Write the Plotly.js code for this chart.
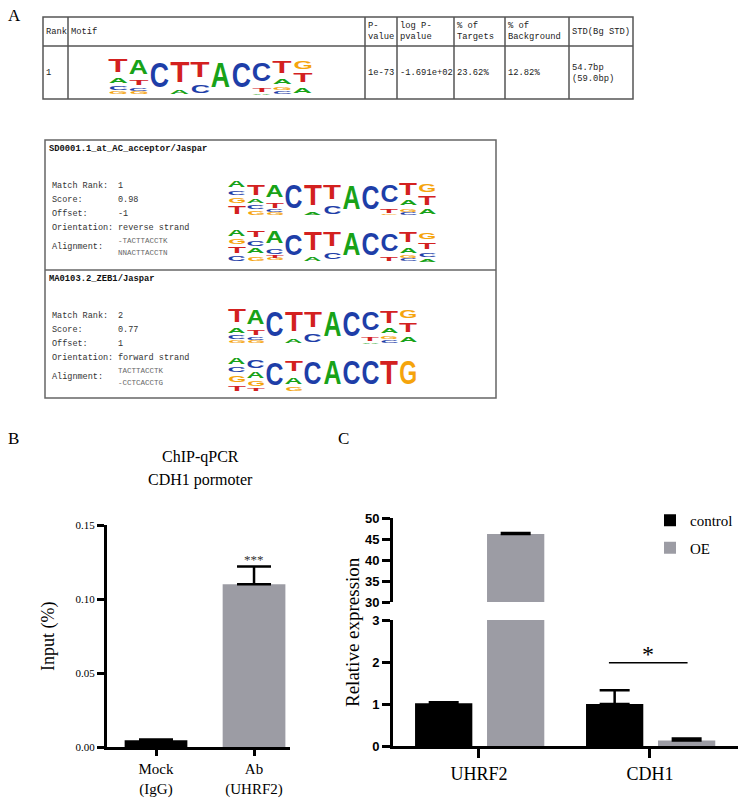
<!DOCTYPE html>
<html>
<head>
<meta charset="utf-8">
<script src="https://cdn.plot.ly/plotly-3.0.1.min.js"></script>
<style>
  body { margin: 0; background: #fff; }
  #chart { width: 740px; height: 799px; }
</style>
</head>
<body>
<div id="chart"></div>
<script>
// ---------------- data ----------------
// panel A: HOMER known motif table
var motifHeader = ['Rank', 'Motif', 'P-<br>value', 'log P-<br>pvalue', '% of<br>Targets', '% of<br>Background', 'STD(Bg STD)'];
var motifRow = ['1', '', '1e-73', '-1.691e+02', '23.62%', '12.82%', '54.7bp<br>(59.0bp)'];

// motif logos: each column lists letters top -> bottom with their share of the column height
var motifHomer = [
    [['T', .50], ['A', .18], ['C', .15], ['G', .10]],
    [['A', .55], ['T', .18], ['C', .12], ['G', .08]],
    [['C', .97]],
    [['T', .80], ['A', .15]],
    [['T', .62], ['C', .30]],
    [['A', .97]],
    [['C', .97]],
    [['C', .70], ['T', .15], ['A', .05]],
    [['T', .45], ['A', .22], ['G', .12], ['C', .10]],
    [['G', .30], ['T', .35], ['A', .22]]
];
var motifSD0001 = [
    [['A', .25], ['C', .17], ['G', .20], ['T', .30]],
    [['T', .40], ['A', .15], ['C', .15], ['G', .15]],
    [['A', .48], ['T', .20], ['C', .10], ['G', .08]],
    [['C', .95]],
    [['T', .85], ['A', .10]],
    [['T', .60], ['C', .30]],
    [['A', .97]],
    [['C', .97]],
    [['C', .70], ['T', .15], ['G', .05]],
    [['T', .45], ['A', .20], ['G', .12], ['C', .10]],
    [['G', .30], ['T', .35], ['A', .20]]
];
var motifSD0001Query = [
    [['A', .25], ['G', .20], ['T', .25], ['C', .20]],
    [['T', .30], ['C', .20], ['A', .22], ['G', .18]],
    [['A', .50], ['C', .20], ['T', .12], ['G', .08]],
    [['C', .90]],
    [['T', .78], ['A', .15]],
    [['T', .60], ['C', .30]],
    [['A', .97]],
    [['C', .97]],
    [['C', .72], ['T', .15]],
    [['T', .45], ['A', .20], ['G', .12], ['C', .10]],
    [['G', .25], ['T', .30], ['C', .15], ['A', .12]]
];
var motifZEB1 = [
    [['A', .25], ['C', .22], ['G', .25], ['T', .20]],
    [['C', .30], ['A', .25], ['G', .20], ['T', .12]],
    [['C', .90]],
    [['T', .45], ['A', .28], ['G', .15]],
    [['C', .95]],
    [['A', .97]],
    [['C', .97]],
    [['C', .97]],
    [['T', .97]],
    [['G', .97]]
];

var matchNames = ['SD0001.1_at_AC_acceptor/Jaspar', 'MA0103.2_ZEB1/Jaspar'];
var matchRank = ['1', '2'];
var matchScore = ['0.98', '0.77'];
var matchOffset = ['-1', '1'];
var matchStrand = ['reverse strand', 'forward strand'];
var matchAlign = [['-TACTTACCTK', 'NNACTTACCTN'], ['TACTTACCTK', '-CCTCACCTG']];

// panel B: ChIP-qPCR
var chipLabels = ['Mock<br>(IgG)', 'Ab<br>(UHRF2)'];
var chipInput = [0.0045, 0.110];
var chipErr = [0.0005, 0.012];

// panel C: relative expression
var genes = ['UHRF2', 'CDH1'];
var ctrlExpr = [1.02, 1.00];
var ctrlErr = [0.02, 0.33];
var oeExpr = [46.2, 0.13];
var oeErr = [0.2, 0.05];

// ---------------- helpers ----------------
var W = 740, H = 799;
function px(x) { return x / W; }
function py(y) { return 1 - y / H; }

var SERIF = 'Liberation Serif, Times New Roman, serif';
var MONO = 'Liberation Mono, DejaVu Sans Mono, monospace';
var SANS = 'Liberation Sans, Arial, sans-serif';

var annotations = [];
var shapes = [];

function note(text, x, y, size, opt) {
    opt = opt || {};
    annotations.push({
        xref: 'paper', yref: 'paper', x: px(x), y: py(y), text: text, showarrow: false,
        xanchor: opt.xanchor || 'left', yanchor: 'middle', align: opt.xanchor === 'center' ? 'center' : 'left',
        textangle: opt.angle || 0,
        font: {family: opt.family || SERIF, size: size, color: opt.color || '#000', weight: opt.weight || 400}
    });
}

function box(x0, y0, x1, y1, color) {
    shapes.push({type: 'rect', xref: 'paper', yref: 'paper', x0: px(x0), x1: px(x1), y0: py(y0), y1: py(y1),
        line: {color: color, width: 1.5}});
}
function hline(x0, x1, y, color) {
    shapes.push({type: 'line', xref: 'paper', yref: 'paper', x0: px(x0), x1: px(x1), y0: py(y), y1: py(y),
        line: {color: color, width: 1.5}});
}
function vline(x, y0, y1, color) {
    shapes.push({type: 'line', xref: 'paper', yref: 'paper', x0: px(x), x1: px(x), y0: py(y0), y1: py(y1),
        line: {color: color, width: 1.5}});
}

// sequence logo letters, stretched after drawing so each text box just fills its slot
var letterColor = {A: '#18a218', C: '#1e3ea8', G: '#f5a40c', T: '#d3211f'};
var letterWidth = {A: 0.722, C: 0.722, G: 0.778, T: 0.611};
var stretch = {};
function addLogo(cols, x0, x1, yTop, yBot) {
    var cw = (x1 - x0) / cols.length, lh = yBot - yTop, fs = 26;
    cols.forEach(function(col, i) {
        var bottom = yBot;
        for (var k = col.length - 1; k >= 0; k--) {
            var L = col[k][0], h = col[k][1] * lh;
            stretch[annotations.length] = [0.94 * cw / (letterWidth[L] * fs), 0.97 * h / (1.117 * fs)];
            annotations.push({
                xref: 'paper', yref: 'paper', x: px(x0 + cw * (i + 0.5)), y: py(bottom - h / 2),
                text: L, showarrow: false, xanchor: 'center', yanchor: 'middle',
                font: {family: SANS, size: fs, weight: 700, color: letterColor[L]}
            });
            bottom -= h;
        }
    });
}

// ---------------- panel A ----------------
note('A', 6, 15, 17);

var colLines = [43, 68, 365, 397, 454, 505, 569, 633];
box(43, 17, 633, 99, '#555');
hline(43, 633, 46, '#555');
colLines.slice(1, -1).forEach(function(x) { vline(x, 17, 99, '#555'); });
motifHeader.forEach(function(t, i) {
    note(t, colLines[i] + 1, 32, 8.8, {family: MONO, color: '#222'});
});
motifRow.forEach(function(t, i) {
    if (t) note(t, colLines[i] + 1, 73, 8.8, {family: MONO, color: '#222'});
});
addLogo(motifHomer, 108, 313, 53, 95);

box(45, 140, 496, 398, '#666');
hline(45, 496, 270, '#666');
var entryTop = [140, 270];
matchNames.forEach(function(name, k) {
    var t = entryTop[k];
    note(name, 47, t + 9, 8.8, {family: MONO, color: '#111', weight: 700});
    note('Match Rank:', 50, t + 46, 8.5, {family: MONO, color: '#333'});
    note('Score:', 50, t + 60, 8.5, {family: MONO, color: '#333'});
    note('Offset:', 50, t + 74, 8.5, {family: MONO, color: '#333'});
    note('Orientation:', 50, t + 88, 8.5, {family: MONO, color: '#333'});
    note('Alignment:', 50, t + 107, 8.5, {family: MONO, color: '#333'});
    note(matchRank[k], 116, t + 46, 8.5, {family: MONO, color: '#333'});
    note(matchScore[k], 116, t + 60, 8.5, {family: MONO, color: '#333'});
    note(matchOffset[k], 116, t + 74, 8.5, {family: MONO, color: '#333'});
    note(matchStrand[k], 116, t + 88, 8.5, {family: MONO, color: '#333'});
    note(matchAlign[k][0], 116, t + 101, 7.5, {family: MONO, color: '#666'});
    note(matchAlign[k][1], 116, t + 113, 7.5, {family: MONO, color: '#666'});
});
addLogo(motifSD0001, 227, 437, 176, 216);
addLogo(motifSD0001Query, 227, 437, 224, 262);
addLogo(motifHomer, 227, 418, 303, 344);
addLogo(motifZEB1, 227, 418, 353, 392);

// ---------------- panel B ----------------
note('B', 6, 438, 17);
note('ChIP-qPCR', 200, 457, 16, {xanchor: 'center'});
note('CDH1 pormoter', 200, 480, 16, {xanchor: 'center'});
note('Input (%)', 48, 637, 18, {xanchor: 'center', angle: -90});
annotations.push({xref: 'x', yref: 'y', x: 1, y: chipInput[1] + chipErr[1], yanchor: 'bottom', yshift: -3,
    text: '***', showarrow: false, font: {family: SERIF, size: 13, color: '#333'}});

// ---------------- panel C ----------------
note('C', 336, 438, 17);
note('Relative expression', 352, 632, 19, {xanchor: 'center', angle: -90});
shapes.push({type: 'line', xref: 'x2', yref: 'y2', x0: 0.76, x1: 1.22, y0: 1.98, y1: 1.98,
    line: {color: '#000', width: 1.5}});
annotations.push({xref: 'x2', yref: 'y2', x: 0.99, y: 1.98, yanchor: 'bottom', yshift: -6,
    text: '*', showarrow: false, font: {family: SERIF, size: 24, color: '#000'}});

// ---------------- traces ----------------
var GREY = '#9c9ca4';
function upErr(arr, w) {
    return {type: 'data', array: arr, arrayminus: arr.map(function() { return 0; }), symmetric: false,
        color: '#000', thickness: 2.5, width: w};
}

var data = [
    {type: 'bar', x: [0, 1], y: chipInput, xaxis: 'x', yaxis: 'y', width: 0.64,
        marker: {color: ['#000', GREY]}, error_y: upErr(chipErr, 17), showlegend: false},
    {type: 'bar', name: 'control', legendgroup: 'a', x: [0, 1], y: ctrlExpr, xaxis: 'x2', yaxis: 'y2',
        width: 0.335, offset: -0.374, marker: {color: '#000'}, error_y: upErr(ctrlErr, 15)},
    {type: 'bar', name: 'OE', legendgroup: 'b', x: [0, 1], y: oeExpr, xaxis: 'x2', yaxis: 'y2',
        width: 0.335, offset: 0.047, marker: {color: GREY}, error_y: upErr(oeErr, 15)},
    {type: 'bar', x: [0, 1], y: ctrlExpr, xaxis: 'x2', yaxis: 'y3', showlegend: false,
        width: 0.335, offset: -0.374, marker: {color: '#000'}},
    {type: 'bar', x: [0, 1], y: oeExpr, xaxis: 'x2', yaxis: 'y3', showlegend: false,
        width: 0.335, offset: 0.047, marker: {color: GREY}, error_y: upErr(oeErr, 15)}
];

var axBase = {showline: true, linecolor: '#000', linewidth: 3, ticks: 'outside', tickcolor: '#000',
    tickwidth: 3, showgrid: false, zeroline: false, fixedrange: true};

var layout = {
    width: W, height: H,
    margin: {l: 0, r: 0, t: 0, b: 0},
    paper_bgcolor: '#fff', plot_bgcolor: 'rgba(0,0,0,0)',
    barmode: 'overlay',
    showlegend: true,
    legend: {x: px(650), y: py(504), xanchor: 'left', yanchor: 'top', bgcolor: 'rgba(0,0,0,0)',
        font: {family: SERIF, size: 15, color: '#000'}, tracegroupgap: 5, traceorder: 'grouped'},
    xaxis: Object.assign({}, axBase, {domain: [px(107), px(290)], range: [-0.5, 1.367], anchor: 'y',
        tickvals: [0, 1], ticktext: chipLabels, ticklen: 6, tickfont: {family: SERIF, size: 15, color: '#000'}}),
    yaxis: Object.assign({}, axBase, {domain: [py(747), py(525)], range: [0, 0.15], anchor: 'x',
        dtick: 0.05, tickformat: '.2f', ticklen: 7, tickfont: {family: SERIF, size: 11, color: '#000'}}),
    xaxis2: Object.assign({}, axBase, {domain: [px(393), px(738)], range: [-0.503, 1.515], anchor: 'y2',
        tickvals: [0, 1], ticktext: genes, ticklen: 9, tickfont: {family: SERIF, size: 18, color: '#000'}}),
    yaxis2: Object.assign({}, axBase, {domain: [py(746), py(620)], range: [0, 3], anchor: 'x2',
        dtick: 1, ticklen: 8, tickfont: {family: SANS, size: 13, weight: 700, color: '#000'}}),
    yaxis3: Object.assign({}, axBase, {domain: [py(602), py(518)], range: [30, 50], anchor: 'x2',
        dtick: 5, ticklen: 8, tickfont: {family: SANS, size: 13, weight: 700, color: '#000'}}),
    annotations: annotations,
    shapes: shapes
};

Plotly.newPlot('chart', data, layout, {staticPlot: true}).then(function(gd) {
    // stretch the logo letters to fill their slots
    gd.querySelectorAll('g.annotation').forEach(function(g) {
        var s = stretch[g.getAttribute('data-index')];
        if (!s) return;
        var t = g.querySelector('text.annotation-text');
        t.style.transformBox = 'fill-box';
        t.style.transformOrigin = 'center';
        t.style.transform = 'scale(' + s[0].toFixed(3) + ',' + s[1].toFixed(3) + ')';
    });
});
</script>
</body>
</html>
